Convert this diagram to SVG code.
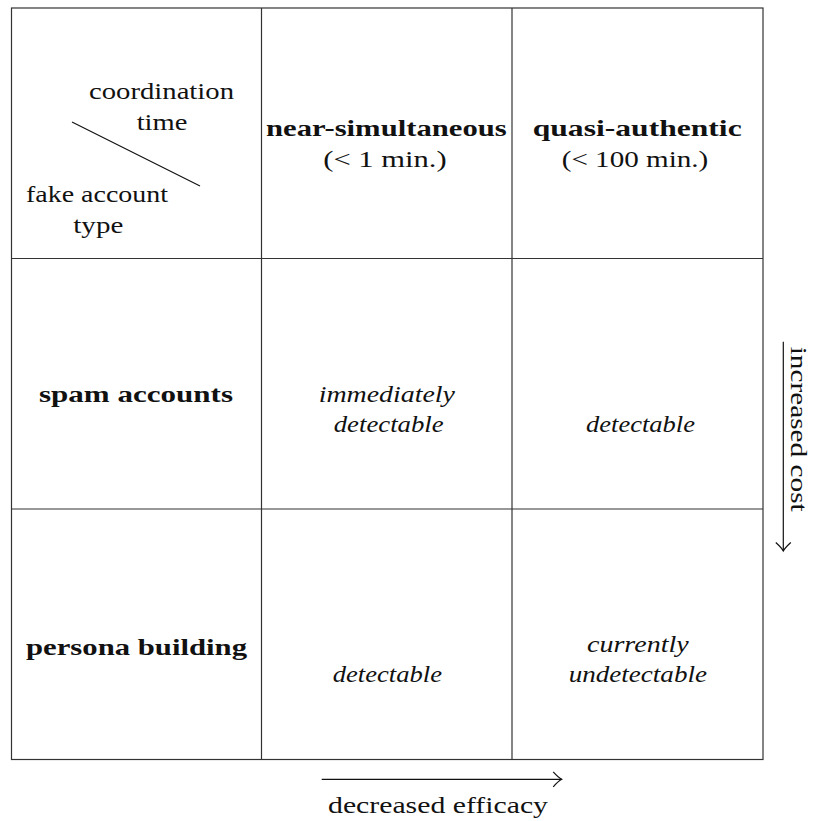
<svg xmlns="http://www.w3.org/2000/svg" width="814" height="821" viewBox="0 0 814 821" font-family="Liberation Serif, Times New Roman, Times, serif">
<style>
text{font-family:"Liberation Serif","Times New Roman",Times,serif;font-size:23px;fill:#111;}
.b{font-weight:bold;}
.i{font-style:italic;}
.grid{stroke:#333;stroke-width:1.2;fill:none;}
.conn{stroke:#111;stroke-width:1.2;fill:none;}
</style>
<defs>
<marker id="arr" markerUnits="userSpaceOnUse" markerWidth="20" markerHeight="20" viewBox="-10 -10 20 20" refX="0" refY="0" orient="auto">
<path d="M-8.5,-7.5 Q-3,-1.5 0,0 Q-3,1.5 -8.5,7.5" fill="none" stroke="#111" stroke-width="1.2"/>
</marker>
</defs>
<rect fill="#fff" x="0" y="0" width="814" height="821"/>
<g id="grid" class="grid">
<rect x="11.5" y="8" width="751.5" height="751.5"/>
<line x1="261.5" y1="8" x2="261.5" y2="759.5"/>
<line x1="512" y1="8" x2="512" y2="759.5"/>
<line x1="11.5" y1="258.5" x2="763" y2="258.5"/>
<line x1="11.5" y1="509" x2="763" y2="509"/>
</g>
<g id="corner">
<line x1="72" y1="122" x2="200" y2="186" stroke="#111" stroke-width="1.1"/>
<text x="89" y="99" textLength="145" lengthAdjust="spacingAndGlyphs">coordination</text>
<text x="136.7" y="130" textLength="50.7" lengthAdjust="spacingAndGlyphs">time</text>
<text x="26" y="202" textLength="142" lengthAdjust="spacingAndGlyphs">fake account</text>
<text x="73.3" y="233" textLength="50" lengthAdjust="spacingAndGlyphs">type</text>
</g>
<g id="col-near">
<text class="b" x="266" y="136" textLength="240.7" lengthAdjust="spacingAndGlyphs">near-simultaneous</text>
<text x="323.3" y="167" textLength="123.4" lengthAdjust="spacingAndGlyphs">(&lt; 1 min.)</text>
</g>
<g id="col-quasi">
<text class="b" x="532.7" y="136" textLength="209" lengthAdjust="spacingAndGlyphs">quasi-authentic</text>
<text x="561.7" y="167" textLength="146.6" lengthAdjust="spacingAndGlyphs">(&lt; 100 min.)</text>
</g>
<g id="row-spam">
<text class="b" x="39" y="402" textLength="194" lengthAdjust="spacingAndGlyphs">spam accounts</text>
</g>
<g id="row-persona">
<text class="b" x="26" y="655" textLength="221" lengthAdjust="spacingAndGlyphs">persona building</text>
</g>
<g id="cell-spam-near">
<text class="i" x="318.7" y="402" textLength="136.3" lengthAdjust="spacingAndGlyphs">immediately</text>
<text class="i" x="333.7" y="432" textLength="110" lengthAdjust="spacingAndGlyphs">detectable</text>
</g>
<g id="cell-spam-quasi">
<text class="i" x="586" y="432" textLength="109" lengthAdjust="spacingAndGlyphs">detectable</text>
</g>
<g id="cell-persona-near">
<text class="i" x="332.7" y="682" textLength="109.3" lengthAdjust="spacingAndGlyphs">detectable</text>
</g>
<g id="cell-persona-quasi">
<text class="i" x="587" y="652" textLength="101.7" lengthAdjust="spacingAndGlyphs">currently</text>
<text class="i" x="568.7" y="682" textLength="138.3" lengthAdjust="spacingAndGlyphs">undetectable</text>
</g>
<g id="connectors">
<line class="conn" x1="321.7" y1="779.3" x2="561.7" y2="779.3" marker-end="url(#arr)"/>
<line class="conn" x1="783.3" y1="341.7" x2="783.3" y2="551" marker-end="url(#arr)"/>
</g>
<g id="labels">
<text x="328" y="813" textLength="220" lengthAdjust="spacingAndGlyphs">decreased efficacy</text>
<text transform="translate(791,346.7) rotate(90)" x="0" y="0" textLength="165" lengthAdjust="spacingAndGlyphs">increased cost</text>
</g>
</svg>
